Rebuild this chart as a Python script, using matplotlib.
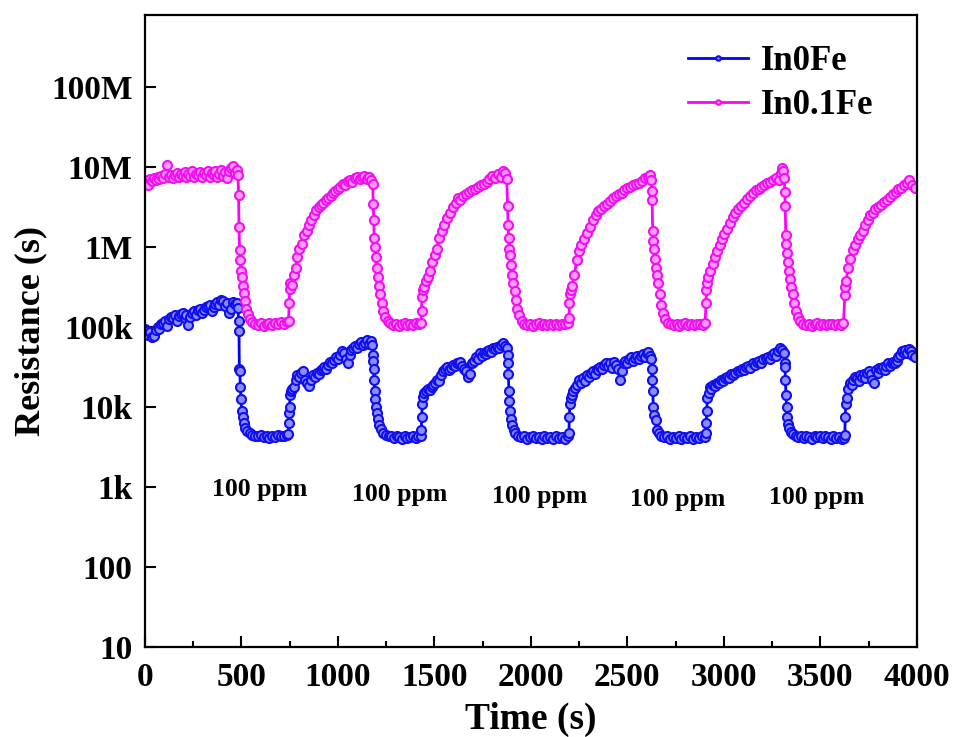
import numpy as np
import matplotlib
matplotlib.use('Agg')
import matplotlib.pyplot as plt
from matplotlib.ticker import FixedLocator, MultipleLocator, NullLocator

plt.rcParams['font.family'] = ['Liberation Serif', 'DejaVu Serif']
plt.rcParams['font.weight'] = 'bold'

# ---------------------------- data ---------------------------- #
# In0.1Fe : time (s) and resistance (MOhm)
t_fe01 = [0, 8, 16, 25, 35, 45, 55, 65, 75, 85, 95, 105, 115, 125, 135, 145, 155, 165, 175, 185,
          195, 205, 215, 225, 235, 245, 255, 265, 275, 285, 295, 305, 315, 325, 335, 345, 355, 365,
          375, 385, 395, 405, 415, 425, 435, 445, 455, 465, 475, 482,
          485, 487, 490, 493, 497, 501, 506, 511, 517, 524, 532, 542, 555,
          570, 585, 600, 615, 630, 645, 660, 675, 690, 705, 720, 735, 744,
          747, 750, 753, 760, 770, 780, 790, 800, 812, 825, 838, 850, 862, 875, 888, 900, 912, 925,
          937, 950, 962, 975, 987, 1000, 1012, 1025, 1037, 1050, 1062, 1075, 1087, 1100, 1112, 1125,
          1137, 1150, 1162, 1172, 1180,
          1183, 1185, 1188, 1191, 1195, 1200, 1205, 1211, 1218, 1226, 1235, 1245, 1257,
          1270, 1285, 1300, 1315, 1330, 1345, 1360, 1375, 1390, 1405, 1420, 1430,
          1433, 1436, 1440, 1447, 1455, 1465, 1477, 1490, 1502, 1512, 1525, 1538, 1550, 1565, 1580,
          1595, 1610, 1622, 1635, 1650, 1665, 1680, 1695, 1710, 1725, 1740, 1755, 1770, 1785, 1800,
          1815, 1830, 1845, 1855, 1865, 1875,
          1879, 1882, 1885, 1889, 1893, 1898, 1903, 1909, 1915, 1922, 1930, 1940, 1952,
          1965, 1980, 1995, 2010, 2025, 2040, 2055, 2070, 2085, 2100, 2115, 2130, 2145, 2160, 2175, 2190,
          2198, 2200, 2203, 2207, 2215, 2225, 2238, 2250, 2262, 2275, 2290, 2305, 2320, 2335, 2350,
          2365, 2380, 2395, 2410, 2425, 2440, 2455, 2470, 2485, 2500, 2515, 2530, 2545, 2560, 2575,
          2590, 2605, 2615, 2622,
          2626, 2628, 2631, 2634, 2638, 2643, 2648, 2654, 2660, 2667, 2675, 2684, 2695, 2708,
          2725, 2740, 2755, 2770, 2785, 2800, 2815, 2830, 2845, 2860, 2875, 2890, 2903,
          2907, 2910, 2914, 2920, 2930, 2942, 2953, 2965, 2978, 2990, 3003, 3016, 3030, 3045, 3060,
          3075, 3090, 3105, 3120, 3135, 3150, 3165, 3180, 3195, 3210, 3225, 3240, 3255, 3270, 3285,
          3295, 3302, 3308, 3313,
          3316, 3318, 3321, 3324, 3328, 3333, 3338, 3344, 3350, 3357, 3364, 3372, 3382, 3394,
          3410, 3425, 3440, 3455, 3470, 3485, 3500, 3515, 3530, 3545, 3560, 3575, 3590, 3605, 3620,
          3627, 3630, 3634, 3644, 3656, 3668, 3680, 3693, 3706, 3720, 3733, 3746, 3760, 3772, 3785,
          3800, 3815, 3830, 3845, 3860, 3875, 3890, 3905, 3920, 3935, 3950, 3962, 3975, 3990]
r_fe01 = [6.2, 6.8, 6.0, 7.0, 6.6, 7.3, 6.9, 7.4, 7.0, 7.8, 7.2, 8.3, 10.5, 7.6, 8.0, 7.3, 7.9, 8.4, 7.5, 8.1,
          7.7, 8.6, 7.4, 8.2, 7.8, 8.9, 7.6, 8.3, 7.9, 8.7, 7.5, 8.4, 8.0, 9.0, 7.6, 8.5, 7.9, 8.8,
          7.4, 8.3, 9.2, 7.8, 8.6, 7.3, 8.9, 9.6, 10.2, 8.4, 9.3, 8.0,
          4.5, 1.8, 0.92, 0.69, 0.50, 0.42, 0.33, 0.27, 0.21, 0.17, 0.145, 0.125, 0.115,
          0.110, 0.106, 0.112, 0.104, 0.109, 0.113, 0.107, 0.111, 0.108, 0.114, 0.110, 0.116, 0.120,
          0.20, 0.30, 0.36, 0.34, 0.45, 0.55, 0.75, 0.95, 1.1, 1.4, 1.6, 1.9, 2.2, 2.5, 2.9, 3.2, 3.4, 3.6,
          3.9, 4.1, 4.4, 4.7, 5.0, 5.3, 5.6, 6.2, 6.0, 6.6, 6.9, 6.5, 7.2, 7.6, 7.0, 7.4,
          7.8, 7.1, 7.5, 6.8, 6.2,
          3.5, 2.2, 1.3, 1.0, 0.75, 0.55, 0.42, 0.33, 0.26, 0.20, 0.16, 0.135, 0.12,
          0.112, 0.106, 0.110, 0.104, 0.108, 0.112, 0.105, 0.109, 0.107, 0.111, 0.110, 0.112,
          0.16, 0.24, 0.29, 0.32, 0.38, 0.42, 0.5, 0.65, 0.8, 0.95, 1.3, 1.6, 1.9, 2.3, 2.7,
          3.2, 3.6, 4.1, 3.9, 4.4, 4.6, 4.9, 5.2, 5.3, 5.6, 5.9, 6.2, 6.5, 7.0, 7.8,
          7.3, 8.2, 7.6, 9.0, 8.5, 7.0,
          3.3, 1.9, 1.3, 0.95, 0.8, 0.6, 0.45, 0.36, 0.28, 0.22, 0.17, 0.14, 0.12,
          0.110, 0.106, 0.109, 0.104, 0.108, 0.111, 0.105, 0.109, 0.106, 0.110, 0.107, 0.109, 0.106, 0.110, 0.108, 0.111,
          0.13, 0.2, 0.26, 0.29, 0.33, 0.45, 0.69, 0.9, 1.05, 1.25, 1.5, 1.8, 2.2, 2.5, 2.8,
          3.0, 3.3, 3.5, 3.8, 4.1, 4.3, 4.6, 4.8, 5.1, 5.4, 5.6, 5.9, 6.2, 6.4, 6.7,
          7.2, 7.6, 7.9, 6.8,
          5.0, 3.9, 1.6, 1.2, 0.95, 0.7, 0.55, 0.45, 0.36, 0.26, 0.19, 0.15, 0.125, 0.112,
          0.108, 0.105, 0.109, 0.104, 0.108, 0.111, 0.106, 0.109, 0.105, 0.108, 0.110, 0.107, 0.112,
          0.2, 0.29, 0.35, 0.42, 0.5, 0.62, 0.75, 0.9, 1.05, 1.25, 1.45, 1.7, 2.0, 2.4, 2.7,
          3.0, 3.3, 3.6, 4.0, 4.4, 4.8, 5.1, 5.3, 5.6, 5.9, 6.3, 6.5, 6.9, 7.3, 6.8,
          8.4, 9.6, 8.8, 7.2,
          4.9, 3.3, 1.4, 1.1, 0.85, 0.65, 0.5, 0.4, 0.32, 0.26, 0.2, 0.16, 0.135, 0.12,
          0.109, 0.106, 0.110, 0.104, 0.108, 0.111, 0.106, 0.109, 0.105, 0.108, 0.110, 0.106, 0.109, 0.107, 0.111,
          0.25, 0.32, 0.38, 0.55, 0.7, 0.92, 1.05, 1.25, 1.4, 1.6, 1.9, 2.2, 2.5, 2.7, 3.0,
          3.2, 3.4, 3.7, 3.9, 4.2, 4.6, 4.9, 5.3, 5.5, 5.9, 6.3, 6.8, 5.9, 5.5]

# In0Fe : time (s) and resistance (kOhm)
t_fe0 = [0, 8, 16, 25, 35, 45, 55, 65, 75, 85, 95, 105, 115, 125, 135, 145, 155, 165, 175, 185,
         195, 205, 215, 225, 235, 245, 255, 265, 275, 285, 295, 305, 315, 325, 335, 345, 355, 365,
         375, 385, 395, 405, 415, 425, 435, 445, 455, 465, 475, 482,
         485, 487, 489, 491, 494, 497, 501, 506, 512, 520, 530, 542,
         555, 570, 585, 600, 615, 630, 645, 660, 675, 690, 705, 720, 735, 743,
         745, 747, 749, 752, 756, 762, 770, 780, 790, 800, 810, 820, 830, 840, 850, 860, 870, 880,
         890, 900, 910, 920, 930, 940, 950, 960, 970, 980, 990, 1000, 1010, 1020, 1030, 1040, 1050,
         1060, 1070, 1080, 1090, 1100, 1110, 1120, 1130, 1140, 1150, 1160, 1170, 1178,
         1181, 1183, 1185, 1187, 1190, 1193, 1197, 1202, 1208, 1215, 1224, 1234,
         1248, 1262, 1276, 1290, 1304, 1318, 1332, 1346, 1360, 1374, 1388, 1402, 1416, 1428,
         1432, 1434, 1437, 1441, 1447, 1455, 1465, 1475, 1485, 1495, 1505, 1515, 1525, 1535, 1545,
         1555, 1565, 1575, 1585, 1595, 1605, 1615, 1625, 1635, 1645, 1655, 1665, 1675, 1685, 1695,
         1705, 1715, 1725, 1735, 1745, 1755, 1765, 1775, 1785, 1795, 1805, 1815, 1825, 1835, 1845,
         1855, 1865, 1875,
         1879, 1881, 1883, 1886, 1889, 1893, 1898, 1904, 1911, 1920,
         1935, 1950, 1965, 1980, 1995, 2010, 2025, 2040, 2055, 2070, 2085, 2100, 2115, 2130, 2145,
         2160, 2175, 2190,
         2197, 2199, 2202, 2206, 2212, 2220, 2230, 2240, 2250, 2260, 2270, 2280, 2290, 2300, 2310,
         2320, 2330, 2340, 2350, 2360, 2370, 2380, 2390, 2400, 2410, 2420, 2430, 2440, 2450, 2460,
         2470, 2480, 2490, 2500, 2510, 2520, 2530, 2540, 2550, 2560, 2570, 2580, 2590, 2600, 2608,
         2616, 2622,
         2626, 2628, 2631, 2635, 2640, 2646, 2653, 2662,
         2675, 2690, 2705, 2720, 2735, 2750, 2765, 2780, 2795, 2810, 2825, 2840, 2855, 2870, 2885, 2900,
         2906, 2908, 2911, 2915, 2921, 2927, 2935, 2945, 2955, 2965, 2975, 2985, 2995, 3005, 3016,
         3027, 3038, 3049, 3060, 3071, 3083, 3094, 3105, 3116, 3127, 3138, 3150, 3161, 3172, 3183,
         3194, 3205, 3216, 3227, 3238, 3249, 3260, 3271, 3282, 3292, 3302, 3310,
         3315, 3317, 3319, 3322, 3325, 3329, 3334, 3340, 3348, 3358,
         3372, 3386, 3400, 3414, 3428, 3442, 3456, 3470, 3484, 3498, 3512, 3526, 3540, 3554, 3568,
         3582, 3596, 3610, 3622,
         3627, 3629, 3632, 3637, 3645, 3653, 3662, 3671, 3680, 3689, 3698, 3707, 3716, 3725, 3734,
         3743, 3752, 3761, 3770, 3779, 3788, 3797, 3806, 3815, 3824, 3833, 3842, 3851, 3860, 3869,
         3878, 3887, 3896, 3905, 3914, 3923, 3932, 3941, 3950, 3959, 3968, 3977, 3990]
r_fe0 = [95, 88, 80, 86, 74, 78, 92, 100, 95, 108, 112, 118, 104, 125, 132, 128, 140, 120, 138, 145,
         150, 128, 140, 105, 135, 150, 160, 142, 165, 170, 148, 162, 178, 185, 190, 160, 180, 195,
         205, 190, 215, 210, 185, 200, 150, 170, 205, 195, 200, 175,
         120, 90, 30, 28, 18, 12.5, 9, 7.5, 6.3, 5.5, 5.0, 4.7,
         4.5, 4.4, 4.3, 4.5, 4.2, 4.4, 4.1, 4.3, 4.2, 4.5, 4.3, 4.4, 4.5, 4.6,
         6.3, 8.5, 10, 14, 16, 17, 18, 22, 25, 24, 27, 28, 22, 20, 18.5, 22, 25, 24,
         27, 26, 29, 30, 32, 30, 34, 37, 35, 39, 42, 40, 45, 50, 48, 40, 36,
         45, 52, 55, 58, 54, 62, 65, 60, 64, 68, 62, 66, 60,
         45, 38, 30, 22, 16, 12.5, 10, 8.5, 7.0, 6.0, 5.3, 4.8,
         4.5, 4.3, 4.4, 4.1, 4.3, 4.2, 4.0, 4.3, 4.1, 4.2, 4.4, 4.1, 4.3, 4.4,
         5.2, 7.5, 11, 13.5, 15, 16, 17, 16.5, 18, 19, 20, 22, 21, 25, 28,
         30, 32, 29, 31, 34, 33, 36, 35, 37, 33, 30, 28, 24, 26, 35,
         38, 42, 40, 47, 44, 48, 46, 50, 52, 49, 55, 53, 57, 54, 60,
         63, 58, 55,
         45, 36, 26, 16, 12, 9, 7, 6, 5.2, 4.7,
         4.4, 4.2, 4.3, 4.0, 4.2, 4.3, 4.1, 4.2, 4.0, 4.3, 4.1, 4.2, 4.0, 4.3, 4.1,
         4.2, 4.0, 4.3,
         4.7, 7.5, 11, 13, 14, 16, 17.5, 19, 22, 20, 23, 21, 25, 24, 27,
         28, 26, 30, 29, 32, 30, 34, 36, 33, 35, 31, 37, 34, 30, 22,
         28, 36, 38, 35, 40, 42, 38, 41, 44, 40, 43, 46, 42, 47, 49,
         44, 40,
         30, 22, 16, 10, 8, 6.8, 5.2, 4.7,
         4.4, 4.2, 4.3, 4.0, 4.2, 4.1, 4.3, 4.0, 4.2, 4.1, 4.3, 4.0, 4.2, 4.1, 4.3, 4.2,
         4.7, 6.3, 9, 13, 15, 18, 17, 19, 18.5, 20, 20, 22, 21, 23, 24,
         23, 26, 25, 27, 28, 28, 30, 29, 32, 33, 31, 36, 34, 37, 38,
         36, 40, 41, 42, 40, 45, 47, 44, 50, 55, 52, 48,
         35, 32, 22, 14, 10, 7.5, 6.2, 5.5, 4.9, 4.6,
         4.4, 4.2, 4.3, 4.1, 4.4, 4.2, 4.0, 4.3, 4.2, 4.4, 4.1, 4.3, 4.2, 4.0, 4.3,
         4.1, 4.2, 4.0, 4.1,
         4.5, 7.5, 11, 13, 17, 20, 19, 22, 24, 23, 21, 25, 24, 26, 23,
         27, 28, 26, 22, 20, 29, 27, 31, 30, 32, 29, 33, 35, 33, 36,
         37, 35, 38, 42, 45, 50, 47, 52, 48, 53, 50, 45, 42]

labels = ['In0Fe', 'In0.1Fe']
y_ticks = [1e1, 1e2, 1e3, 1e4, 1e5, 1e6, 1e7, 1e8]
y_ticklabels = ['10', '100', '1k', '10k', '100k', '1M', '10M', '100M']
ppm_text = '100 ppm'
ppm_t = [596, 1321, 2047, 2762, 3482]
ppm_r = [920, 815, 770, 690, 730]

# ---------------------------------- plotting ---------------------------------- #
fig = plt.figure(figsize=(9.54, 7.37), dpi=100)
ax = fig.add_axes([0.152, 0.1221, 0.809, 0.8575])

ax.plot(t_fe0, np.array(r_fe0) * 1e3, color='#0000ff', lw=2, marker='o', ms=6.5,
        mfc='#8c8cff', mec='#1010ee', mew=1.5, label=labels[0])
ax.plot(t_fe01, np.array(r_fe01) * 1e6, color='#ff00ff', lw=2, marker='o', ms=6.5,
        mfc='#ff9cff', mec='#f010f0', mew=1.5, label=labels[1])

ax.set_yscale('log')
ax.set_xlim(0, 4000)
ax.set_ylim(10, 10 ** 8.9)
ax.yaxis.set_major_locator(FixedLocator(y_ticks))
ax.set_yticklabels(y_ticklabels)
ax.yaxis.set_minor_locator(NullLocator())
ax.xaxis.set_major_locator(MultipleLocator(500))
ax.xaxis.set_minor_locator(MultipleLocator(250))

ax.tick_params(which='both', direction='in', top=False, right=False, labelsize=24, width=1.5)
ax.tick_params(which='major', length=8)
ax.tick_params(which='minor', length=4)
ax.tick_params(axis='x', pad=11)
ax.tick_params(axis='y', pad=9)
for s in ax.spines.values():
    s.set_linewidth(1.6)
for lab in ax.get_xticklabels() + ax.get_yticklabels():
    lab.set_fontweight('bold')

ax.set_xlabel('Time (s)', fontsize=27, fontweight='bold', labelpad=6)
ax.set_ylabel('Resistance (s)', fontsize=26, fontweight='bold', labelpad=3)

for t, r in zip(ppm_t, ppm_r):
    ax.text(t, r, ppm_text, fontsize=18.5, fontweight='bold', ha='center', va='center')

leg = ax.legend(loc='upper left', bbox_to_anchor=(0.703, 0.952), frameon=False,
                fontsize=25, handlelength=1.75, handletextpad=0.35, labelspacing=0.3,
                borderaxespad=0, borderpad=0, markerscale=0.5)

fig.savefig('out.png', dpi=100)
